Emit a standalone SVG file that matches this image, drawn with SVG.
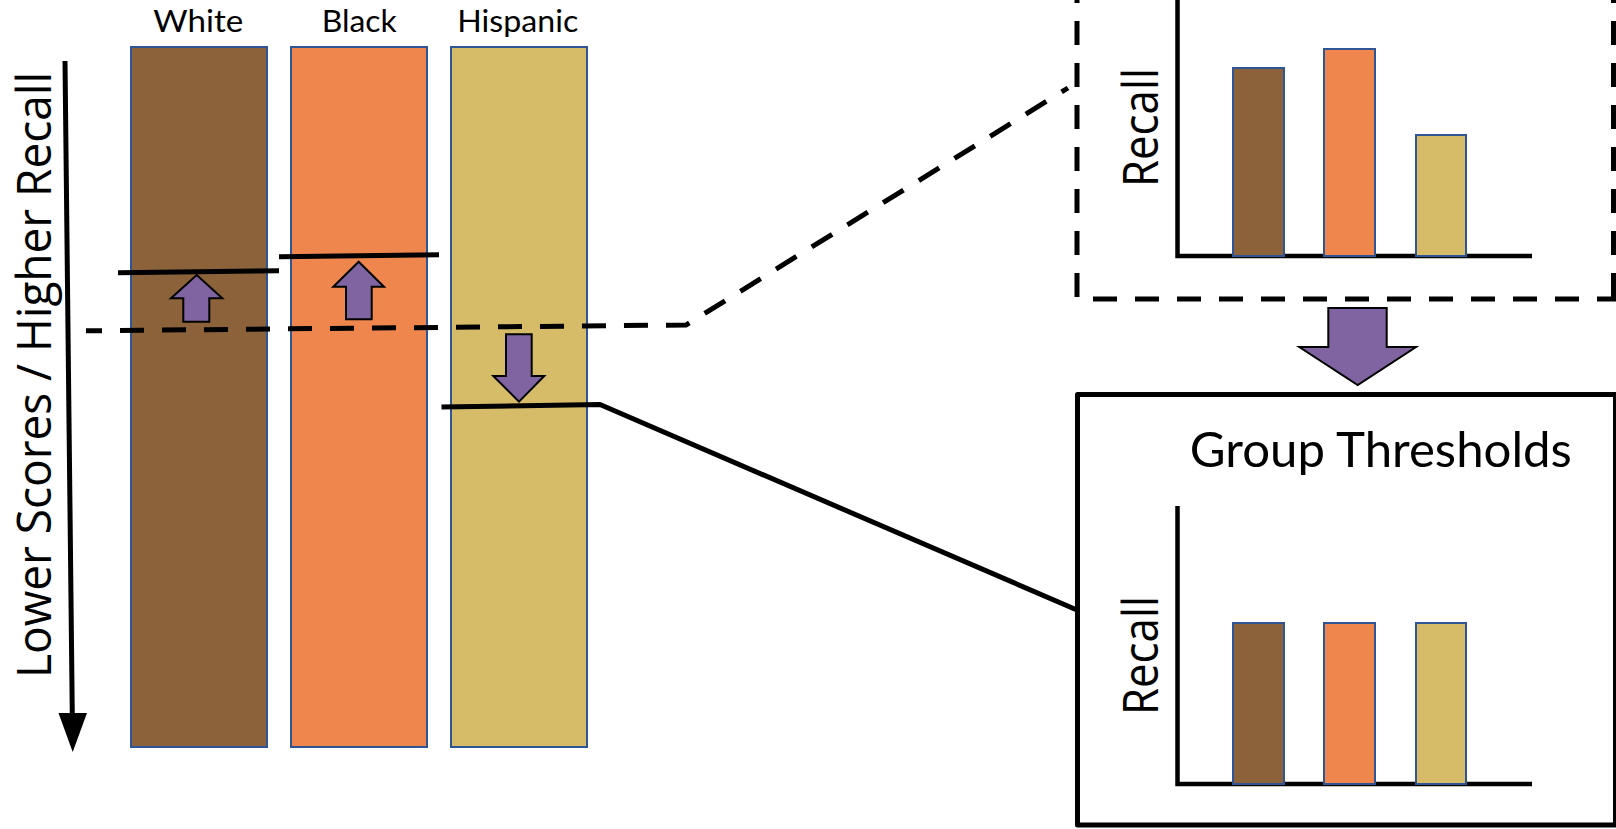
<svg xmlns="http://www.w3.org/2000/svg" width="1616" height="829" viewBox="0 0 1616 829">
  <style>
    .lbl { font-family: Lato, "Liberation Sans", sans-serif; fill: #000; text-anchor: middle; }
    .rot { font-family: "Open Sans", "DejaVu Sans", sans-serif; fill: #000; text-anchor: middle; }
    .bar { stroke: #2F5597; stroke-width: 2; }
    .brown { fill: #8B6239; }
    .orange { fill: #EE864D; }
    .khaki { fill: #D6BB68; }
    .parrow { fill: #8064A2; stroke: #000; stroke-width: 2; stroke-linejoin: miter; }
    .solid { fill: none; stroke: #000; stroke-width: 5; stroke-linejoin: round; }
    .dash { fill: none; stroke: #000; stroke-width: 5; stroke-dasharray: 24 18; }
    .axis { fill: none; stroke: #000; stroke-width: 4.5; }
  </style>

  <rect width="1616" height="829" fill="#fff"/>

  <!-- score axis -->
  <g id="score-axis">
    <line x1="65" y1="61" x2="72.3" y2="716" stroke="#000" stroke-width="5"/>
    <polygon points="58.5,713 87,713 72.7,752" fill="#000"/>
    <text class="rot" font-size="48" textLength="606" lengthAdjust="spacingAndGlyphs" transform="translate(50.5,375) rotate(-90)">Lower Scores / Higher Recall</text>
  </g>

  <!-- group bars -->
  <g id="bar-white">
    <rect class="bar brown" x="131" y="47" width="136" height="700"/>
    <text class="lbl" x="198.3" y="31.7" font-size="31" textLength="90" lengthAdjust="spacingAndGlyphs">White</text>
  </g>
  <g id="bar-black">
    <rect class="bar orange" x="291" y="47" width="136" height="700"/>
    <text class="lbl" x="359.2" y="31.7" font-size="31" textLength="75" lengthAdjust="spacingAndGlyphs">Black</text>
  </g>
  <g id="bar-hispanic">
    <rect class="bar khaki" x="451" y="47" width="136" height="700"/>
    <text class="lbl" x="517.8" y="31.7" font-size="31" textLength="121" lengthAdjust="spacingAndGlyphs">Hispanic</text>
  </g>

  <!-- connectors: thresholds and lines -->
  <g id="connectors">
    <line class="solid" x1="118" y1="272.7" x2="279" y2="270.7"/>
    <line class="solid" x1="279" y1="256.7" x2="439" y2="254.7"/>
    <path class="dash" stroke-dashoffset="8" d="M86,330.8 L686,325 L1068,88"/>
    <path class="solid" d="M441.5,407 L600,404.5 L1077,610"/>
  </g>

  <!-- small purple arrows -->
  <g id="arrow-white">
    <polygon class="parrow" points="196.7,275 222.3,298.3 209.3,298.3 209.3,321.7 183.3,321.7 183.3,298.3 171,298.3"/>
  </g>
  <g id="arrow-black">
    <polygon class="parrow" points="358.7,261.7 384,286.7 371.7,286.7 371.7,319.3 346,319.3 346,286.7 333.3,286.7"/>
  </g>
  <g id="arrow-hispanic">
    <polygon class="parrow" points="506,334.3 531.7,334.3 531.7,376 544.3,376 519,401.7 493.3,376 506,376"/>
  </g>

  <!-- dashed box: group recall chart -->
  <g id="recall-chart-before">
    <path class="dash" stroke-dashoffset="40" d="M1077,299 L1077,-20"/>
    <path class="dash" stroke-dashoffset="26" d="M1077,299 L1616,299"/>
    <path class="dash" stroke-dashoffset="40" d="M1613.5,299 L1613.5,-20"/>
    <path class="axis" d="M1177.5,-10 L1177.5,256 L1532,256"/>
    <rect class="bar brown" x="1233" y="68" width="51" height="188"/>
    <rect class="bar orange" x="1324" y="49" width="51" height="207"/>
    <rect class="bar khaki" x="1416" y="135" width="50" height="121"/>
    <text class="rot" font-size="49" textLength="119" lengthAdjust="spacingAndGlyphs" transform="translate(1158,127.5) rotate(-90)">Recall</text>
  </g>

  <!-- big purple arrow -->
  <g id="arrow-big">
    <polygon class="parrow" points="1328.3,308 1386.7,308 1386.7,347 1416,347 1357.7,385 1299.3,347 1328.3,347"/>
  </g>

  <!-- solid box: group thresholds -->
  <g id="group-thresholds">
    <rect class="solid" x="1077.5" y="394.5" width="538" height="430.5"/>
    <text class="lbl" x="1380.8" y="466.7" font-size="48.8" textLength="382" lengthAdjust="spacingAndGlyphs">Group Thresholds</text>
    <path class="axis" d="M1177.5,506 L1177.5,784 L1532,784"/>
    <rect class="bar brown" x="1233" y="623" width="51" height="161"/>
    <rect class="bar orange" x="1324" y="623" width="51" height="161"/>
    <rect class="bar khaki" x="1416" y="623" width="50" height="161"/>
    <text class="rot" font-size="49" textLength="119" lengthAdjust="spacingAndGlyphs" transform="translate(1158,655.5) rotate(-90)">Recall</text>
  </g>
</svg>
